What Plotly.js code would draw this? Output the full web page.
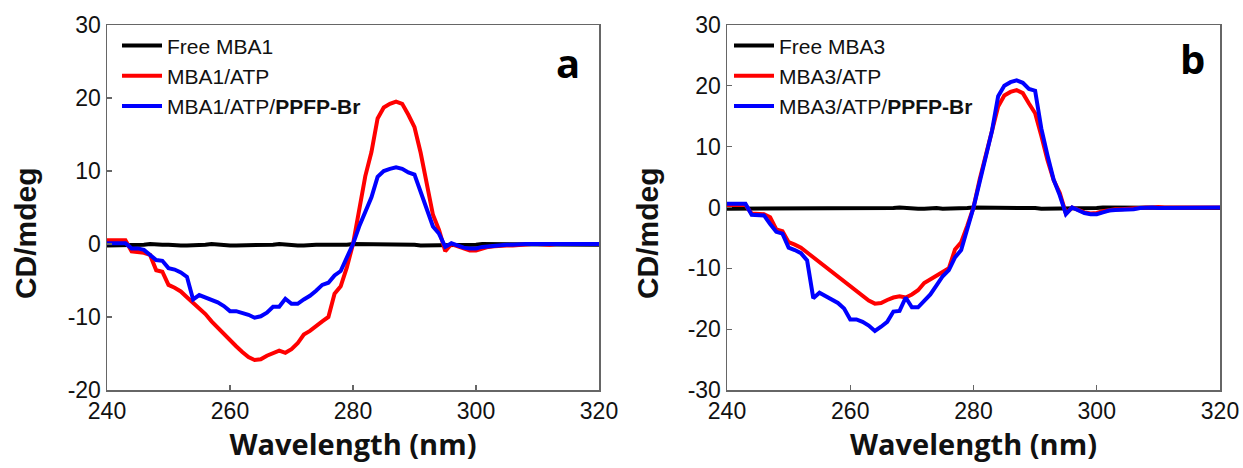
<!DOCTYPE html>
<html>
<head>
<meta charset="utf-8">
<script src="https://cdn.plot.ly/plotly-3.0.1.min.js"></script>
<style>
html, body { margin: 0; padding: 0; background: #fff; }
#chart { width: 1243px; height: 468px; }
</style>
</head>
<body>
<div id="chart"></div>
<script>
// Wavelength (nm), 1 nm steps from 240 to 320
const wavelength = [240,241,242,243,244,245,246,247,248,249,250,251,252,253,254,255,256,257,258,259,260,261,262,263,264,265,266,267,268,269,270,271,272,273,274,275,276,277,278,279,280,281,282,283,284,285,286,287,288,289,290,291,292,293,294,295,296,297,298,299,300,301,302,303,304,305,306,307,308,309,310,311,312,313,314,315,316,317,318,319,320];

// Panel a
const freeMBA1 = [-0.2,-0.2,-0.2,-0.1,-0.1,-0.1,-0.1,0.0,-0.1,-0.1,-0.1,-0.2,-0.2,-0.2,-0.2,-0.1,-0.1,0.0,-0.1,-0.1,-0.2,-0.2,-0.2,-0.2,-0.2,-0.1,-0.1,-0.1,0.0,-0.1,-0.1,-0.2,-0.2,-0.1,-0.1,-0.1,-0.1,-0.2,-0.2,-0.1,0.0,0.0,-0.1,-0.1,-0.1,0.0,0.0,-0.1,-0.1,-0.1,-0.1,-0.2,-0.2,-0.1,-0.1,-0.1,-0.1,-0.1,-0.2,-0.1,-0.1,0.0,0.0,-0.1,-0.1,-0.1,0.0,0.0,0.0,0.0,-0.1,-0.1,-0.1,-0.1,0.0,0.0,-0.1,-0.1,-0.1,-0.1,-0.1];
const mba1ATP = [0.5,0.5,0.5,0.5,-1.0,-1.1,-1.2,-1.5,-3.6,-3.8,-5.6,-6.0,-6.5,-7.3,-8.1,-8.9,-9.6,-10.6,-11.5,-12.3,-13.1,-14.0,-14.8,-15.5,-15.9,-15.8,-15.3,-14.9,-14.6,-14.9,-14.4,-13.6,-12.4,-11.9,-11.2,-10.6,-10.0,-6.8,-5.8,-3.2,0.0,4.6,9.3,12.6,17.2,18.7,19.2,19.5,19.2,17.7,16.0,12.5,8.4,4.0,1.9,-1.0,0.0,-0.3,-0.7,-0.9,-0.9,-0.6,-0.4,-0.3,-0.2,-0.2,-0.2,-0.1,0.0,0.0,0.0,-0.1,-0.1,0.0,0.0,0.0,0.0,0.0,0.0,0.0,0.0];
const mba1ATPPPFP = [0.1,0.1,0.1,0.1,-0.6,-0.6,-0.8,-1.5,-2.2,-2.3,-3.3,-3.5,-3.9,-4.5,-7.6,-7.0,-7.3,-7.7,-8.0,-8.5,-9.2,-9.2,-9.4,-9.7,-10.1,-9.9,-9.4,-8.6,-8.6,-7.5,-8.2,-8.2,-7.6,-7.1,-6.4,-5.6,-5.3,-4.3,-3.7,-2.0,0.0,2.4,4.4,6.4,9.2,10.0,10.3,10.5,10.3,9.8,9.5,7.0,4.5,2.4,1.4,-0.4,0.1,-0.2,-0.5,-0.6,-0.6,-0.4,-0.3,-0.2,-0.2,-0.1,-0.1,0.0,0.0,0.0,0.0,-0.1,-0.1,0.0,0.0,0.0,0.0,0.0,0.0,0.0,0.0];

// Panel b
const freeMBA3 = [-0.2,-0.2,-0.2,-0.2,-0.1,-0.1,-0.1,-0.1,-0.1,-0.2,-0.2,-0.1,-0.1,-0.1,-0.2,-0.2,-0.2,-0.1,-0.1,-0.1,-0.2,-0.2,-0.2,-0.2,-0.2,-0.1,-0.1,-0.1,0.0,-0.1,-0.1,-0.2,-0.2,-0.1,-0.1,-0.2,-0.2,-0.2,-0.2,-0.1,0.0,0.0,-0.1,-0.1,-0.1,0.0,0.0,-0.1,-0.1,-0.1,-0.1,-0.2,-0.2,-0.1,-0.1,-0.1,-0.1,-0.1,-0.2,-0.2,-0.1,0.0,0.0,-0.1,-0.1,-0.1,0.0,0.0,0.0,0.0,-0.1,-0.1,-0.1,-0.1,0.0,0.0,-0.1,-0.1,-0.1,-0.1,-0.1];
const mba3ATP = [0.4,0.4,0.4,0.4,-1.0,-1.0,-1.1,-1.6,-3.6,-3.9,-5.7,-6.1,-6.6,-7.4,-8.2,-9.0,-9.7,-10.5,-11.3,-12.0,-12.8,-13.7,-14.6,-15.3,-15.8,-15.7,-15.2,-14.8,-14.6,-14.8,-14.3,-13.6,-12.4,-11.8,-11.2,-10.6,-10.0,-6.9,-5.7,-3.0,0.0,4.6,8.6,12.2,16.6,18.4,19.0,19.3,18.8,17.1,15.5,11.8,7.8,4.5,2.4,-1.0,0.0,-0.4,-0.8,-1.0,-0.9,-0.6,-0.4,-0.3,-0.3,-0.2,-0.2,-0.1,0.0,0.0,0.1,0.0,0.0,0.0,0.0,0.0,0.0,0.0,0.0,0.0,0.0];
const mba3ATPPPFP = [0.6,0.6,0.6,0.6,-1.2,-1.2,-1.3,-2.7,-4.0,-4.3,-6.6,-7.0,-7.5,-8.7,-14.9,-14.0,-14.6,-15.2,-15.7,-16.6,-18.4,-18.4,-18.8,-19.4,-20.3,-19.6,-18.8,-17.1,-17.0,-14.8,-16.4,-16.4,-15.4,-14.3,-12.8,-11.3,-10.3,-8.2,-7.0,-3.6,0.0,4.2,8.4,12.6,18.3,20.0,20.6,20.9,20.5,19.5,19.2,13.0,8.6,4.6,2.0,-1.1,0.0,-0.5,-0.9,-1.1,-1.1,-0.8,-0.5,-0.4,-0.4,-0.3,-0.3,-0.1,0.0,0.0,-0.1,-0.1,0.0,0.0,0.0,0.0,0.0,0.0,0.0,0.0,0.0];

const namesA = ['Free MBA1', 'MBA1/ATP', 'MBA1/ATP/<b>PPFP-Br</b>'];
const namesB = ['Free MBA3', 'MBA3/ATP', 'MBA3/ATP/<b>PPFP-Br</b>'];
const xTicks = [240, 260, 280, 300, 320];
const yTicksA = [-20, -10, 0, 10, 20, 30];
const yTicksB = [-30, -20, -10, 0, 10, 20, 30];
const panelLabels = ['a', 'b'];
const xTitle = 'Wavelength (nm)';
const yTitle = 'CD/mdeg';

const colors = ['#000000', '#ff0000', '#0000ff'];
const W = 1243;

function mk(y, name, color, xa, ya, legend) {
  return { x: wavelength, y: y, name: name, type: 'scatter', mode: 'lines',
    line: { color: color, width: 4 }, xaxis: xa, yaxis: ya, legend: legend };
}

const data = [
  mk(freeMBA1, namesA[0], colors[0], 'x', 'y', 'legend'),
  mk(mba1ATP, namesA[1], colors[1], 'x', 'y', 'legend'),
  mk(mba1ATPPPFP, namesA[2], colors[2], 'x', 'y', 'legend'),
  mk(freeMBA3, namesB[0], colors[0], 'x2', 'y2', 'legend2'),
  mk(mba3ATP, namesB[1], colors[1], 'x2', 'y2', 'legend2'),
  mk(mba3ATPPPFP, namesB[2], colors[2], 'x2', 'y2', 'legend2')
];

const tickFont = { family: 'Liberation Sans Narrow, Liberation Sans, Arial, sans-serif', size: 23, color: '#111' };
const xTitleFont = { family: 'Open Sans, sans-serif', size: 29, color: '#111', weight: 'bold' };
const yTitleFont = { family: 'Liberation Sans, Arial, sans-serif', size: 30, color: '#111', weight: 'bold' };

function xax(domain, anchor) {
  return { domain: domain, anchor: anchor, range: [240, 320], tickvals: xTicks, ticktext: xTicks.map(String),
    showgrid: false, zeroline: false, showline: true, mirror: true, linecolor: '#666', linewidth: 1.5,
    ticks: 'inside', ticklen: 5, tickcolor: '#666', tickwidth: 1.2, tickfont: tickFont,
    title: { text: xTitle, font: xTitleFont, standoff: 6 } };
}
function yax(range, ticks, anchor) {
  return { domain: [0, 1], anchor: anchor, range: range, tickvals: ticks, ticktext: ticks.map(String),
    showgrid: false, zeroline: false, showline: true, mirror: true, linecolor: '#666', linewidth: 1.5,
    ticks: 'inside', ticklen: 5, tickcolor: '#666', tickwidth: 1.2, tickfont: tickFont };
}

const legendFont = { family: 'Liberation Sans, Arial, sans-serif', size: 21, color: '#111' };
const labelFont = { family: 'Open Sans, sans-serif', size: 40, color: '#000' };
const layout = {
  width: W, height: 468,
  margin: { l: 0, r: 0, t: 25, b: 78 },
  paper_bgcolor: '#fff', plot_bgcolor: '#fff',
  showlegend: true,
  xaxis: xax([107 / W, 599 / W], 'y'),
  yaxis: yax([-20, 30], yTicksA, 'x'),
  xaxis2: xax([727 / W, 1220 / W], 'y2'),
  yaxis2: yax([-30, 30], yTicksB, 'x2'),
  legend: { x: 117 / W, xanchor: 'left', y: 0.999, yanchor: 'top', bgcolor: 'rgba(0,0,0,0)',
    font: legendFont, itemwidth: 40, tracegroupgap: 0 },
  legend2: { x: 729 / W, xanchor: 'left', y: 0.999, yanchor: 'top', bgcolor: 'rgba(0,0,0,0)',
    font: legendFont, itemwidth: 40, tracegroupgap: 0 },
  annotations: [
    { text: '<b>' + yTitle + '</b>', xref: 'paper', yref: 'paper', x: 25 / W, y: 0.43, textangle: -90,
      xanchor: 'center', yanchor: 'middle', showarrow: false, font: yTitleFont },
    { text: '<b>' + yTitle + '</b>', xref: 'paper', yref: 'paper', x: 647 / W, y: 0.43, textangle: -90,
      xanchor: 'center', yanchor: 'middle', showarrow: false, font: yTitleFont },
    { text: '<b>' + panelLabels[0] + '</b>', xref: 'x', yref: 'y', x: 315, y: 24.9, showarrow: false, font: labelFont },
    { text: '<b>' + panelLabels[1] + '</b>', xref: 'x2', yref: 'y2', x: 315.5, y: 24.5, showarrow: false, font: labelFont }
  ]
};

Plotly.newPlot('chart', data, layout, { staticPlot: true });
</script>
</body>
</html>
